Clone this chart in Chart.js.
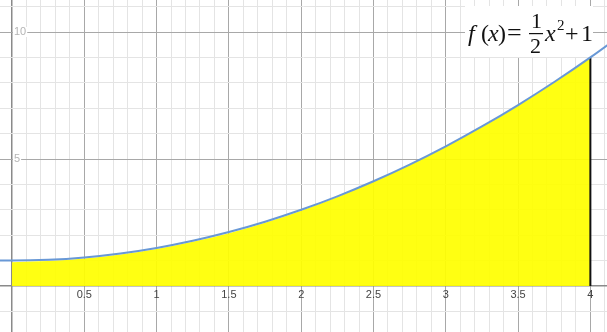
<!DOCTYPE html>
<html lang="en">
<head>
  <meta charset="utf-8">
  <title>f(x) = 1/2 x^2 + 1</title>
  <script src="https://cdn.jsdelivr.net/npm/chart.js@4.4.1/dist/chart.umd.min.js"></script>
  <style>
    html, body { margin: 0; padding: 0; background: #fff; }
    #wrap { width: 607px; height: 332px; }
  </style>
</head>
<body>
  <div id="wrap"><canvas id="graph" width="607" height="332"></canvas></div>

<script>
  // curve points of f(x) = 1/2 x^2 + 1
  var curveX = [-0.25, 0, 0.25, 0.5, 0.75, 1, 1.25, 1.5, 1.75, 2, 2.25, 2.5, 2.75, 3, 3.25, 3.5, 3.75, 4, 4.25];
  var curveY = [1.03125, 1, 1.03125, 1.125, 1.28125, 1.5, 1.78125, 2.125, 2.53125, 3, 3.53125, 4.125, 4.78125, 5.5, 6.28125, 7.125, 8.03125, 9, 10.03125];

  // shaded area, x = 0 .. 4
  var shadeX = [0, 0.25, 0.5, 0.75, 1, 1.25, 1.5, 1.75, 2, 2.25, 2.5, 2.75, 3, 3.25, 3.5, 3.75, 4];
  var shadeY = [0.94, 0.98, 1.08, 1.24, 1.46, 1.74, 2.08, 2.49, 2.96, 3.5, 4.1, 4.76, 5.48, 6.26, 7.1, 8.01, 9];

  // vertical bound at x = 4
  var boundX = [4, 4];
  var boundY = [0, 9];

  // axis labels
  var xLabels = ['0.5', '1', '1.5', '2', '2.5', '3', '3.5', '4'];
  var xLabelVals = [0.5, 1, 1.5, 2, 2.5, 3, 3.5, 4];
  var yLabels = ['5', '10'];
  var yLabelVals = [5, 10];

  function pts(xs, ys) {
    return xs.map(function(x, i) { return {x: x, y: ys[i]}; });
  }

  // grid positions: minor every 0.1 (x) / 1 (y)
  var xGrid = [];
  for (var i = 0; i <= 41; i++) xGrid.push(i / 10);
  var yGrid = [];
  for (var j = -1; j <= 11; j++) yGrid.push(j);

  function near(v, step) {
    var r = v / step;
    return Math.abs(r - Math.round(r)) < 1e-6;
  }

  function gridColor(step) {
    return function(ctx) {
      var v = ctx.tick.value;
      if (Math.abs(v) < 1e-9) return '#8a8a8a';
      if (near(v, step)) return '#a8a8a8';
      return '#e4e4e4';
    };
  }
  function gridWidth(ctx) {
    return Math.abs(ctx.tick.value) < 1e-9 ? 1.5 : 1;
  }

  var labelsPlugin = {
    id: 'labels',
    beforeDatasetsDraw: function(chart) {
      // white box behind the formula
      var c = chart.ctx;
      c.save();
      c.fillStyle = '#fff';
      c.fillRect(465, 6, 128, 51);
      c.restore();
    },
    afterDatasetsDraw: function(chart) {
      var c = chart.ctx;
      var xs = chart.scales.x, ys = chart.scales.y;
      var y0 = ys.getPixelForValue(0);
      var x0 = xs.getPixelForValue(0);
      c.save();

      // x tick labels
      c.font = '11px "Liberation Sans", Arial, sans-serif';
      c.fillStyle = '#444';
      c.textAlign = 'center';
      c.textBaseline = 'middle';
      xLabels.forEach(function(t, i) {
        c.fillText(t, xs.getPixelForValue(xLabelVals[i]), y0 + 9);
      });

      // y tick labels (on a white patch)
      c.textAlign = 'left';
      yLabels.forEach(function(t, i) {
        var py = ys.getPixelForValue(yLabelVals[i]);
        var w = c.measureText(t).width;
        c.fillStyle = '#fff';
        c.fillRect(x0 + 1, py - 5, w + 2, 10);
        c.fillStyle = '#b5b5b5';
        c.fillText(t, x0 + 2, py);
      });

      // formula
      c.fillStyle = '#111';
      c.textBaseline = 'alphabetic';
      c.textAlign = 'left';
      var serif = '"Liberation Serif", "Times New Roman", serif';
      var it = 'italic 24px ' + serif;
      var rm = '24px ' + serif;
      var base = 41;
      c.font = it; c.fillText('f', 468, base);
      c.font = rm; c.fillText('(', 481, base);
      c.font = it; c.fillText('x', 488, base);
      c.font = rm; c.fillText(')', 498, base);
      c.font = '26px ' + serif; c.fillText('=', 507, base);
      c.font = '22px ' + serif;
      c.fillText('1', 531, 28);
      c.fillText('2', 530, 53);
      c.fillRect(529, 33, 14, 1.2);
      c.font = it; c.fillText('x', 545, base);
      c.font = '15px ' + serif;
      c.fillText('2', 557, 30);
      c.font = rm; c.fillText('+', 565, base);
      c.fillText('1', 581, base);

      c.restore();
    }
  };

  var chart = new Chart(document.getElementById('graph'), {
    type: 'scatter',
    data: {
      datasets: [{
        label: 'f(x)',
        data: pts(curveX, curveY),
        showLine: true,
        borderColor: 'rgb(104, 152, 214)',
        borderWidth: 2,
        pointRadius: 0,
        cubicInterpolationMode: 'monotone',
        fill: false,
        order: 0
      }, {
        label: 'x = 4',
        data: pts(boundX, boundY),
        showLine: true,
        borderColor: '#111',
        borderWidth: 2,
        pointRadius: 0,
        fill: false,
        order: 1
      }, {
        label: 'area',
        data: pts(shadeX, shadeY),
        showLine: true,
        borderWidth: 0,
        borderColor: 'rgba(0,0,0,0)',
        backgroundColor: 'rgba(255, 255, 0, 0.93)',
        pointRadius: 0,
        cubicInterpolationMode: 'monotone',
        fill: 'origin',
        order: 2
      }]
    },
    options: {
      responsive: false,
      animation: false,
      layout: { padding: 0 },
      plugins: {
        legend: { display: false },
        tooltip: { enabled: false }
      },
      scales: {
        x: {
          type: 'linear',
          min: -0.083,
          max: 4.115,
          afterBuildTicks: function(scale) {
            scale.ticks = xGrid.map(function(v) { return {value: v}; });
          },
          ticks: { display: false },
          border: { display: false },
          grid: { color: gridColor(0.5), lineWidth: gridWidth, drawTicks: false }
        },
        y: {
          type: 'linear',
          min: -1.811,
          max: 11.26,
          afterBuildTicks: function(scale) {
            scale.ticks = yGrid.map(function(v) { return {value: v}; });
          },
          ticks: { display: false },
          border: { display: false },
          grid: { color: gridColor(5), lineWidth: gridWidth, drawTicks: false }
        }
      }
    },
    plugins: [labelsPlugin]
  });
</script>
</body>
</html>
